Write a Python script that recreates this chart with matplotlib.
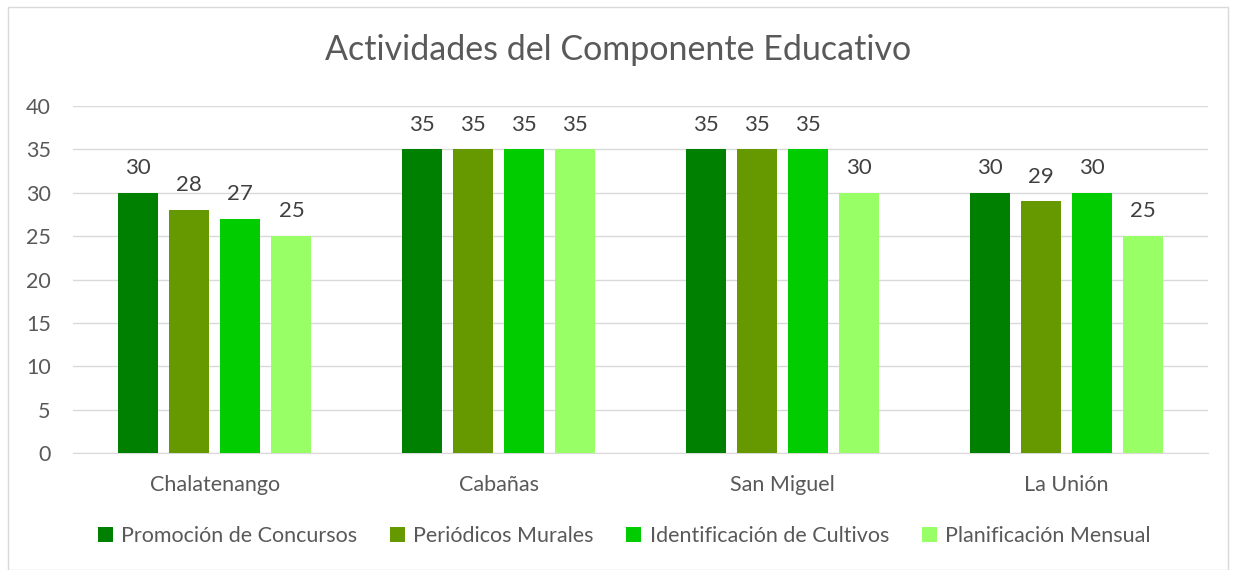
import matplotlib
matplotlib.use("Agg")
import matplotlib.pyplot as plt
import numpy as np
from matplotlib.patches import Rectangle

categories = ["Chalatenango", "Cabañas", "San Miguel", "La Unión"]
series_names = ["Promoción de Concursos", "Periódicos Murales",
                "Identificación de Cultivos", "Planificación Mensual"]
promocion = [30, 35, 35, 30]
periodicos = [28, 35, 35, 29]
identificacion = [27, 35, 35, 30]
planificacion = [25, 35, 30, 25]
colors = ["#008000", "#669900", "#00CC00", "#99FF66"]
yticks = [0, 5, 10, 15, 20, 25, 30, 35, 40]

plt.rcParams['font.family'] = ['Lato', 'DejaVu Sans']
txt = "#595959"

fig = plt.figure(figsize=(12.36, 5.70), dpi=100)
fig.patches.append(Rectangle((8/1236, 0.0), 1220/1236, 1 - 7/570, transform=fig.transFigure,
                             fill=False, edgecolor="#d9d9d9", linewidth=1))
ax = fig.add_axes([73/1236, 1 - 453/570, (1208 - 73)/1236, (453 - 106)/570])

x = np.arange(len(categories))
width = 0.141
step = 0.18
data = [promocion, periodicos, identificacion, planificacion]
for i, (vals, name, c) in enumerate(zip(data, series_names, colors)):
    pos = x + (i - 1.5) * step
    bars = ax.bar(pos, vals, width, color=c, label=name, zorder=3)
    for b, v in zip(bars, vals):
        ax.text(b.get_x() + b.get_width() / 2, v + 1.7, str(v), ha="center", va="bottom",
                fontsize=16, color="#404040")

ax.set_xlim(-0.5, 3.5)
ax.set_ylim(0, 40)
ax.set_yticks(yticks)
ax.yaxis.grid(True, color="#d9d9d9", linewidth=1, zorder=0)
ax.set_axisbelow(True)
for s in ["top", "right", "left"]:
    ax.spines[s].set_visible(False)
ax.spines["bottom"].set_color("#d9d9d9")
ax.tick_params(axis="both", length=0, labelsize=15.5, colors=txt)
ax.tick_params(axis="y", pad=16)
ax.tick_params(axis="x", pad=16)
ax.set_xticks(x)
ax.set_xticklabels(categories)

fig.text(0.5, 1 - 50/570, "Actividades del Componente Educativo", ha="center", va="center",
         fontsize=24.5, color=txt)
leg = fig.legend(loc="center", bbox_to_anchor=(0.505, 1 - 536/570), ncol=4, frameon=False,
                 fontsize=15.5, handlelength=0.7, handleheight=0.7, columnspacing=1.5,
                 handletextpad=0.4)
for t in leg.get_texts():
    t.set_color(txt)

fig.savefig("out.png", dpi=100)
